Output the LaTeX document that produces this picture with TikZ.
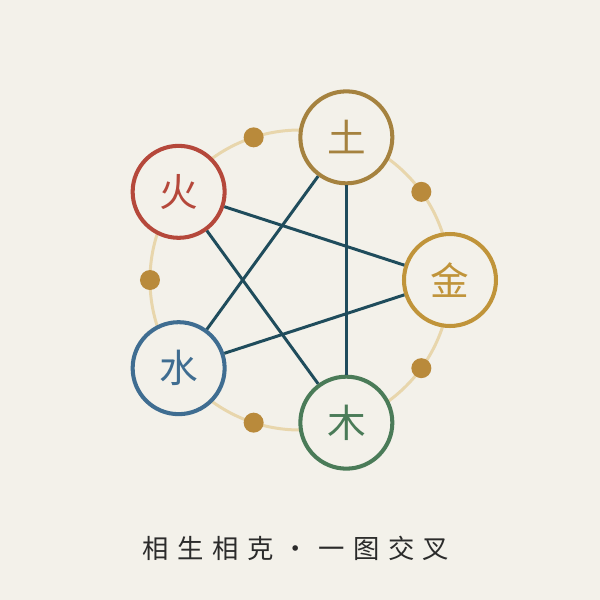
\documentclass[tikz,border=0pt]{standalone}
\usepackage{fontspec}
\usepackage{xcolor}
\newfontfamily\cjk{Noto Sans CJK SC}
\newfontfamily\cjktitle[LetterSpace=32]{Noto Sans CJK SC}
\usetikzlibrary{calc}
\definecolor{paper}{HTML}{F3F1EA}
\definecolor{orbitcol}{HTML}{E8D6AC}
\definecolor{dotcol}{HTML}{B98A3B}
\definecolor{kecol}{HTML}{1F4C5C}
\definecolor{huocol}{HTML}{B5483B}
\definecolor{tucol}{HTML}{A5823F}
\definecolor{jincol}{HTML}{C0943A}
\definecolor{mucol}{HTML}{4A7B58}
\definecolor{shuicol}{HTML}{3F6D91}
\definecolor{ink}{HTML}{2B2B2B}

\begin{document}
\begin{tikzpicture}[x=0.02cm,y=0.02cm,
    element/.style={circle, line width=2.3pt, fill=paper, minimum size=1.84cm, inner sep=0pt, font=\cjk\fontsize{22}{22}\selectfont},
    ke/.style={kecol, line width=1.7pt}]
            % page and its margins
            \fill[paper] (-300,-320) rectangle (300,280);
            \useasboundingbox (-300,-320) rectangle (300,280);
            % the ring and its dots
            \draw[orbitcol, line width=1.7pt] (0,0) circle (150);
            \foreach \a in {36,108,...,324}
                \fill[dotcol] (\a:150) circle (10);
            % the five elements
            \node[element, draw=jincol, text=jincol] (jin) at (0:150) {金};
            \node[element, draw=tucol, text=tucol] (tu) at (72:150) {土};
            \node[element, draw=huocol, text=huocol] (huo) at (144:150) {火};
            \node[element, draw=shuicol, text=shuicol] (shui) at (216:150) {水};
            \node[element, draw=mucol, text=mucol] (mu) at (288:150) {木};
            % the star of lines
            \draw[ke] (huo) -- (jin);
            \draw[ke] (huo) -- (mu);
            \draw[ke] (tu) -- (shui);
            \draw[ke] (tu) -- (mu);
            \draw[ke] (shui) -- (jin);
            % title
            \node[text=ink, font=\cjktitle\fontsize{15}{15}\selectfont] (title) at (-4,-268) {相生相克\hspace{-0.1cm} · \hspace{-0.1cm}一图交叉};
        \end{tikzpicture}
\end{document}
